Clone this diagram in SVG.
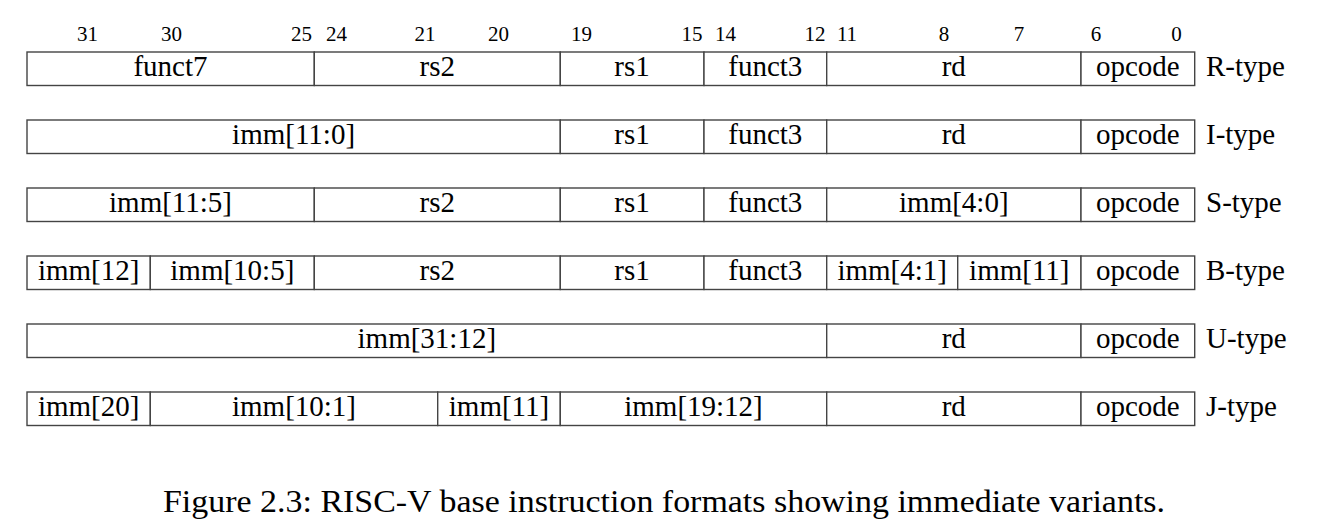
<svg xmlns="http://www.w3.org/2000/svg" width="1332" height="530" viewBox="0 0 1332 530">
<style>
.cell{fill:#fff;stroke:#444;stroke-width:1.4}
.t{font-family:"Liberation Serif",serif;font-size:29px;fill:#000;text-anchor:middle}
.lbl{font-family:"Liberation Serif",serif;font-size:29px;fill:#000}
.bit{font-family:"Liberation Serif",serif;font-size:21px;fill:#000;text-anchor:middle}
.cap{font-family:"Liberation Serif",serif;font-size:32px;fill:#000}
</style>
<rect width="1332" height="530" fill="#fff"/>
<g id="bits">
<text class="bit" x="87.5" y="41">31</text>
<text class="bit" x="171.5" y="41">30</text>
<text class="bit" x="301.5" y="41">25</text>
<text class="bit" x="336.5" y="41">24</text>
<text class="bit" x="425" y="41">21</text>
<text class="bit" x="498.5" y="41">20</text>
<text class="bit" x="581.5" y="41">19</text>
<text class="bit" x="692" y="41">15</text>
<text class="bit" x="725.5" y="41">14</text>
<text class="bit" x="815" y="41">12</text>
<text class="bit" x="847" y="41">11</text>
<text class="bit" x="944" y="41">8</text>
<text class="bit" x="1019" y="41">7</text>
<text class="bit" x="1096" y="41">6</text>
<text class="bit" x="1176.5" y="41">0</text>
</g>
<g id="r-type">
<rect class="cell" x="27" y="52" width="287.3" height="33.5"/>
<rect class="cell" x="314.3" y="52" width="246" height="33.5"/>
<rect class="cell" x="560.3" y="52" width="143.7" height="33.5"/>
<rect class="cell" x="704" y="52" width="122.7" height="33.5"/>
<rect class="cell" x="826.7" y="52" width="254.3" height="33.5"/>
<rect class="cell" x="1081" y="52" width="113.7" height="33.5"/>
<text class="t" x="170.5" y="76">funct7</text>
<text class="t" x="437.3" y="76">rs2</text>
<text class="t" x="632" y="76">rs1</text>
<text class="t" x="765.3" y="76">funct3</text>
<text class="t" x="953.8" y="76">rd</text>
<text class="t" x="1137.8" y="76">opcode</text>
<text class="lbl" x="1206" y="76">R-type</text>
</g>
<g id="i-type">
<rect class="cell" x="27" y="120" width="533.3" height="33.5"/>
<rect class="cell" x="560.3" y="120" width="143.7" height="33.5"/>
<rect class="cell" x="704" y="120" width="122.7" height="33.5"/>
<rect class="cell" x="826.7" y="120" width="254.3" height="33.5"/>
<rect class="cell" x="1081" y="120" width="113.7" height="33.5"/>
<text class="t" x="293.6" y="144">imm[11:0]</text>
<text class="t" x="632" y="144">rs1</text>
<text class="t" x="765.3" y="144">funct3</text>
<text class="t" x="953.8" y="144">rd</text>
<text class="t" x="1137.8" y="144">opcode</text>
<text class="lbl" x="1206" y="144">I-type</text>
</g>
<g id="s-type">
<rect class="cell" x="27" y="188" width="287.3" height="33.5"/>
<rect class="cell" x="314.3" y="188" width="246" height="33.5"/>
<rect class="cell" x="560.3" y="188" width="143.7" height="33.5"/>
<rect class="cell" x="704" y="188" width="122.7" height="33.5"/>
<rect class="cell" x="826.7" y="188" width="254.3" height="33.5"/>
<rect class="cell" x="1081" y="188" width="113.7" height="33.5"/>
<text class="t" x="170.5" y="212">imm[11:5]</text>
<text class="t" x="437.3" y="212">rs2</text>
<text class="t" x="632" y="212">rs1</text>
<text class="t" x="765.3" y="212">funct3</text>
<text class="t" x="953.8" y="212">imm[4:0]</text>
<text class="t" x="1137.8" y="212">opcode</text>
<text class="lbl" x="1206" y="212">S-type</text>
</g>
<g id="b-type">
<rect class="cell" x="27" y="256" width="123.3" height="33.5"/>
<rect class="cell" x="150.3" y="256" width="164" height="33.5"/>
<rect class="cell" x="314.3" y="256" width="246" height="33.5"/>
<rect class="cell" x="560.3" y="256" width="143.7" height="33.5"/>
<rect class="cell" x="704" y="256" width="122.7" height="33.5"/>
<rect class="cell" x="826.7" y="256" width="131" height="33.5"/>
<rect class="cell" x="957.7" y="256" width="123.3" height="33.5"/>
<rect class="cell" x="1081" y="256" width="113.7" height="33.5"/>
<text class="t" x="88.7" y="280">imm[12]</text>
<text class="t" x="232.3" y="280">imm[10:5]</text>
<text class="t" x="437.3" y="280">rs2</text>
<text class="t" x="632" y="280">rs1</text>
<text class="t" x="765.3" y="280">funct3</text>
<text class="t" x="892.2" y="280">imm[4:1]</text>
<text class="t" x="1019.3" y="280">imm[11]</text>
<text class="t" x="1137.8" y="280">opcode</text>
<text class="lbl" x="1206" y="280">B-type</text>
</g>
<g id="u-type">
<rect class="cell" x="27" y="324" width="799.7" height="33.5"/>
<rect class="cell" x="826.7" y="324" width="254.3" height="33.5"/>
<rect class="cell" x="1081" y="324" width="113.7" height="33.5"/>
<text class="t" x="426.8" y="348">imm[31:12]</text>
<text class="t" x="953.8" y="348">rd</text>
<text class="t" x="1137.8" y="348">opcode</text>
<text class="lbl" x="1206" y="348">U-type</text>
</g>
<g id="j-type">
<rect class="cell" x="27" y="392" width="123.3" height="33.5"/>
<rect class="cell" x="150.3" y="392" width="287.4" height="33.5"/>
<rect class="cell" x="437.7" y="392" width="122.6" height="33.5"/>
<rect class="cell" x="560.3" y="392" width="266.4" height="33.5"/>
<rect class="cell" x="826.7" y="392" width="254.3" height="33.5"/>
<rect class="cell" x="1081" y="392" width="113.7" height="33.5"/>
<text class="t" x="88.7" y="416">imm[20]</text>
<text class="t" x="294" y="416">imm[10:1]</text>
<text class="t" x="499" y="416">imm[11]</text>
<text class="t" x="693.5" y="416">imm[19:12]</text>
<text class="t" x="953.8" y="416">rd</text>
<text class="t" x="1137.8" y="416">opcode</text>
<text class="lbl" x="1206" y="416">J-type</text>
</g>
<g id="connectors"></g>
<text class="cap" x="163" y="512" textLength="1002" lengthAdjust="spacingAndGlyphs">Figure 2.3: RISC-V base instruction formats showing immediate variants.</text>
</svg>
